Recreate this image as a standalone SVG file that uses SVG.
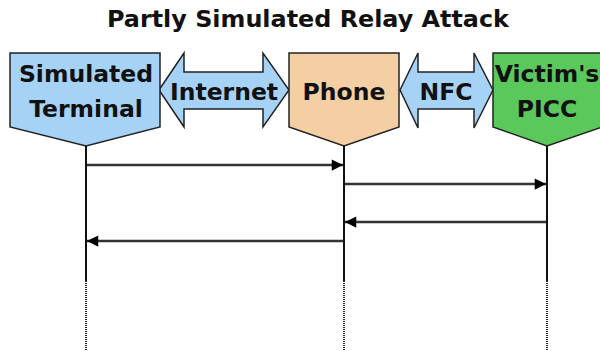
<svg xmlns="http://www.w3.org/2000/svg" width="600" height="351" viewBox="0 0 600 351">
  <style>
    .title { font-family: "DejaVu Sans", "Liberation Sans", sans-serif; font-weight: bold; font-size: 23.5px; fill: #111; }
    .lbl { font-family: "DejaVu Sans", "Liberation Sans", sans-serif; font-weight: bold; font-size: 23.5px; fill: #111; text-anchor: middle; }
    .box { stroke: #222; stroke-width: 1.5; stroke-linejoin: miter; }
    .life { stroke: #111; stroke-width: 2; fill: none; }
    .dots { stroke: #222; stroke-width: 2; stroke-dasharray: 1 1; fill: none; }
    .msg { stroke: #333; stroke-width: 2.5; fill: none; marker-end: url(#head); }
  </style>
  <defs>
    <marker id="head" viewBox="0 0 10 10" refX="10" refY="5" markerWidth="5" markerHeight="4.5" orient="auto" markerUnits="strokeWidth">
      <path d="M0,0 L10,5 L0,10 z" fill="#000"/>
    </marker>
  </defs>

  <rect width="600" height="351" fill="#fff"/>

  <text class="title" x="308" y="27" text-anchor="middle" textLength="402" lengthAdjust="spacingAndGlyphs">Partly Simulated Relay Attack</text>

  <!-- channels between parties -->
  <g id="internet">
    <path class="box" fill="#a6d2f5" d="M159,90 L184,53 L184,72 L263,72 L263,53 L289,90 L263,127 L263,109 L184,109 L184,127 Z"/>
    <text class="lbl" x="224" y="100">Internet</text>
  </g>
  <g id="nfc">
    <path class="box" fill="#a6d2f5" d="M400,90 L418,53 L418,72 L474,72 L474,53 L493,90 L474,128 L474,109 L418,109 L418,128 Z"/>
    <text class="lbl" x="446" y="100">NFC</text>
  </g>

  <!-- parties -->
  <g id="terminal">
    <path class="box" fill="#a6d2f5" d="M10,53 L160,53 L160,127 L86,146 L10,127 Z"/>
    <text class="lbl" x="86" y="82">Simulated</text>
    <text class="lbl" x="86" y="117">Terminal</text>
  </g>
  <g id="phone">
    <path class="box" fill="#f5cfa4" d="M289,53 L399,53 L399,127 L344,146 L289,127 Z"/>
    <text class="lbl" x="344" y="100">Phone</text>
  </g>
  <g id="picc">
    <path class="box" fill="#5ac85a" d="M493,53 L602,53 L602,127 L547,146 L493,127 Z"/>
    <text class="lbl" x="547" y="82">Victim's</text>
    <text class="lbl" x="547" y="117">PICC</text>
  </g>

  <!-- lifelines and messages -->
  <g id="connectors">
    <line class="life" x1="86" y1="146" x2="86" y2="281"/>
    <line class="life" x1="344" y1="146" x2="344" y2="281"/>
    <line class="life" x1="547" y1="146" x2="547" y2="281"/>
    <line class="dots" x1="86" y1="281" x2="86" y2="351"/>
    <line class="dots" x1="344" y1="281" x2="344" y2="351"/>
    <line class="dots" x1="547" y1="281" x2="547" y2="351"/>
    <line class="msg" x1="87" y1="165" x2="343" y2="165"/>
    <line class="msg" x1="345" y1="184" x2="546" y2="184"/>
    <line class="msg" x1="546" y1="222" x2="345" y2="222"/>
    <line class="msg" x1="343" y1="241" x2="87" y2="241"/>
  </g>
</svg>
